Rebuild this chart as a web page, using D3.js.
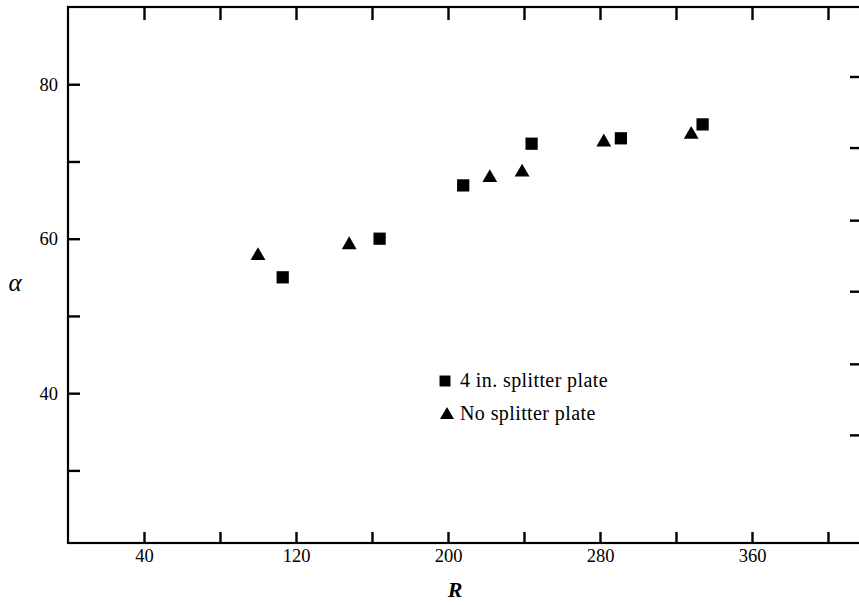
<!DOCTYPE html>
<html>
<head>
<meta charset="utf-8">
<script src="https://cdn.jsdelivr.net/npm/d3@7"></script>
<style>
  body { margin: 0; background: #fff; }
  svg { display: block; }
  text { font-family: "Liberation Serif", "DejaVu Serif", serif; fill: #000; }
</style>
</head>
<body>
<svg id="chart"></svg>
<script>
//--data
const splitterR = [113, 164, 208, 244, 291, 334];
const splitterA = [55.0, 60.0, 66.9, 72.3, 73.0, 74.8];
const noSplitterR = [100, 148, 222, 239, 282, 328];
const noSplitterA = [57.8, 59.2, 67.9, 68.6, 72.5, 73.5];
const xTicks = [40, 80, 120, 160, 200, 240, 280, 320, 360, 400];
const xLabels = [40, 120, 200, 280, 360];
const yTicks = [30, 40, 50, 60, 70, 80];
const yLabels = [40, 60, 80];
const rightTicks = [81, 71.8, 62.4, 53.2, 43.8, 34.6];
const legendNames = ["4 in. splitter plate", "No splitter plate"];
//--

const width = 859, height = 605;
const svg = d3.select("#chart").attr("width", width).attr("height", height);

const x = d3.scaleLinear().domain([0, 420]).range([68, 866]);
const y = d3.scaleLinear().domain([20.6, 90]).range([543, 7]);

//--frame
svg.append("rect")
    .attr("x", x(0)).attr("y", y(90))
    .attr("width", x(420) - x(0)).attr("height", y(20.6) - y(90))
    .attr("fill", "none").attr("stroke", "#000").attr("stroke-width", 2.2);

//--axes, ticks pointing inward
const fmtX = d => xLabels.includes(d) ? d : "";
const fmtY = d => yLabels.includes(d) ? d : "";

const axBottom = svg.append("g")
    .attr("transform", `translate(0,${y(20.6)})`)
    .call(d3.axisBottom(x).tickValues(xTicks).tickSize(-11).tickPadding(6).tickFormat(fmtX));
const axTop = svg.append("g")
    .attr("transform", `translate(0,${y(90)})`)
    .call(d3.axisTop(x).tickValues(xTicks).tickSize(-13).tickFormat(""));
const axLeft = svg.append("g")
    .attr("transform", `translate(${x(0)},0)`)
    .call(d3.axisLeft(y).tickValues(yTicks).tickSize(-12).tickPadding(10).tickFormat(fmtY));
const axRight = svg.append("g")
    .attr("transform", `translate(${width},0)`)
    .call(d3.axisRight(y).tickValues(rightTicks).tickSize(-9).tickFormat(""));

[axBottom, axTop, axLeft, axRight].forEach(g => {
    g.select(".domain").remove();
    g.selectAll(".tick line").attr("stroke", "#000").attr("stroke-width", 2.4);
    g.selectAll(".tick text").attr("font-size", 18.5).attr("font-family", "Liberation Serif");
});

//--axis titles
svg.append("text")
    .attr("x", 455).attr("y", 597)
    .attr("text-anchor", "middle")
    .attr("font-size", 22).attr("font-weight", "bold").attr("font-style", "italic")
    .text("R");
svg.append("text")
    .attr("x", 15).attr("y", 291)
    .attr("text-anchor", "middle")
    .attr("font-size", 25).attr("font-style", "italic")
    .text("α");

//--points
const square = d3.symbol().type(d3.symbolSquare).size(150);
const triangle = d3.symbol().type(d3.symbolTriangle).size(95);

svg.append("g").selectAll("path")
    .data(splitterR.map((r, i) => [r, splitterA[i]]))
    .enter()
    .append("path")
    .attr("d", square)
    .attr("transform", d => `translate(${x(d[0])},${y(d[1])})`)
    .attr("fill", "#000");

svg.append("g").selectAll("path")
    .data(noSplitterR.map((r, i) => [r, noSplitterA[i]]))
    .enter()
    .append("path")
    .attr("d", triangle)
    .attr("transform", d => `translate(${x(d[0])},${y(d[1])})`)
    .attr("fill", "#000");

//--legend
const legend = svg.append("g").attr("transform", "translate(445,381)");
legend.append("path").attr("d", d3.symbol().type(d3.symbolSquare).size(120)).attr("fill", "#000");
legend.append("path").attr("d", d3.symbol().type(d3.symbolTriangle).size(85))
    .attr("transform", "translate(2,34)").attr("fill", "#000");
legend.selectAll("text")
    .data(legendNames)
    .enter()
    .append("text")
    .attr("x", 15)
    .attr("y", (d, i) => i * 33 + 6)
    .attr("font-size", 20)
    .attr("letter-spacing", 0.4)
    .text(d => d);
</script>
</body>
</html>
